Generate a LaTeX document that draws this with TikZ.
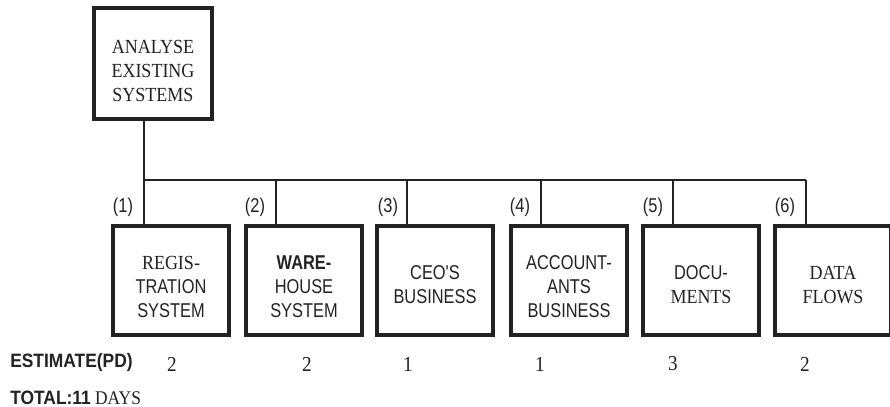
\documentclass[tikz,border=0pt]{standalone}
\usepackage{fontspec}
\setmainfont[FakeStretch=0.9]{Liberation Serif}
\newfontfamily\sansc[FakeStretch=0.82]{Liberation Sans}
\newfontfamily\sansw[FakeStretch=0.9]{Liberation Sans}
\definecolor{ink}{HTML}{222222}
\begin{document}
\begin{tikzpicture}[x=0.75pt,y=-0.75pt,
  task/.style={draw=ink, line width=2.6pt, minimum width=87pt, minimum height=81.75pt, inner sep=0pt},
  tasktext/.style={align=center, inner sep=0pt, text=ink, font=\fontsize{15}{18}\selectfont},
  link/.style={draw=ink, line width=2.1pt},
  num/.style={text=ink, font=\fontsize{16}{18}\selectfont},
  tag/.style={text=ink, font=\sansc\fontsize{15}{16}\selectfont}]
\useasboundingbox (0,0) rectangle (890,407);
\clip (0,0) rectangle (890,407);

% parent activity
\node[task, minimum width=88.5pt, minimum height=83.25pt] (top) at (153,63.5) {};
\node[tasktext] (toptext) at (153,71) {ANALYSE\\EXISTING\\SYSTEMS};

% sub-activities
\node[task] (b1) at (171,280.5) {};
\node[task] (b2) at (304,280.5) {};
\node[task] (b3) at (435,280.5) {};
\node[task] (b4) at (569,280.5) {};
\node[task] (b5) at (701,280.5) {};
\node[task] (b6) at (833,280.5) {};

\node[tasktext] (b1t) at (171,287) {REGIS-\\{\sansc TRATION}\\{\sansc SYSTEM}};
\node[tasktext] (b2t) at (304,287) {{\sansc\bfseries WARE-}\\{\sansc HOUSE}\\{\sansc SYSTEM}};
\node[tasktext] (b3t) at (435,285) {{\sansc CEO'S}\\{\sansc BUSINESS}};
\node[tasktext] (b4t) at (569,287) {{\sansc ACCOUNT-}\\{\sansc ANTS}\\{\sansc BUSINESS}};
\node[tasktext] (b5t) at (701,285) {{\sansc DOCU-}\\MENTS};
\node[tasktext] (b6t) at (833,285.5) {DATA\\FLOWS};

% junctions on the distribution bar
\coordinate (t1) at (144,180);
\coordinate (t2) at (276,180);
\coordinate (t3) at (407,180);
\coordinate (t4) at (541,180);
\coordinate (t5) at (673,180);
\coordinate (t6) at (806,180);

\draw[link] (top.south -| t1) -- (b1.north -| t1);
\draw[link] (t1) -- (t6);
\foreach \k in {2,...,6}
  \draw[link] (t\k) -- (b\k.north -| t\k);

% sequence numbers
\node[tag] (l1) at (123,207) {(1)};
\node[tag] (l2) at (255,207) {(2)};
\node[tag] (l3) at (388,207) {(3)};
\node[tag] (l4) at (520,207) {(4)};
\node[tag] (l5) at (653,207) {(5)};
\node[tag] (l6) at (785,207) {(6)};

% estimates
\node[anchor=west, inner sep=0pt, text=ink, font=\sansw\bfseries\fontsize{14.5}{16}\selectfont] (est) at (10,362) {ESTIMATE(PD)};
\node[num] (e1) at (172,364) {2};
\node[num] (e2) at (307,364) {2};
\node[num] (e3) at (408,364) {1};
\node[num] (e4) at (540,364) {1};
\node[num] (e5) at (673,364) {3};
\node[num] (e6) at (805,364) {2};
\node[anchor=west, inner sep=0pt, text=ink, font=\fontsize{14.5}{16}\selectfont] (tot) at (10,398) {{\sansw\bfseries TOTAL:11} DAYS};
\end{tikzpicture}
\end{document}
